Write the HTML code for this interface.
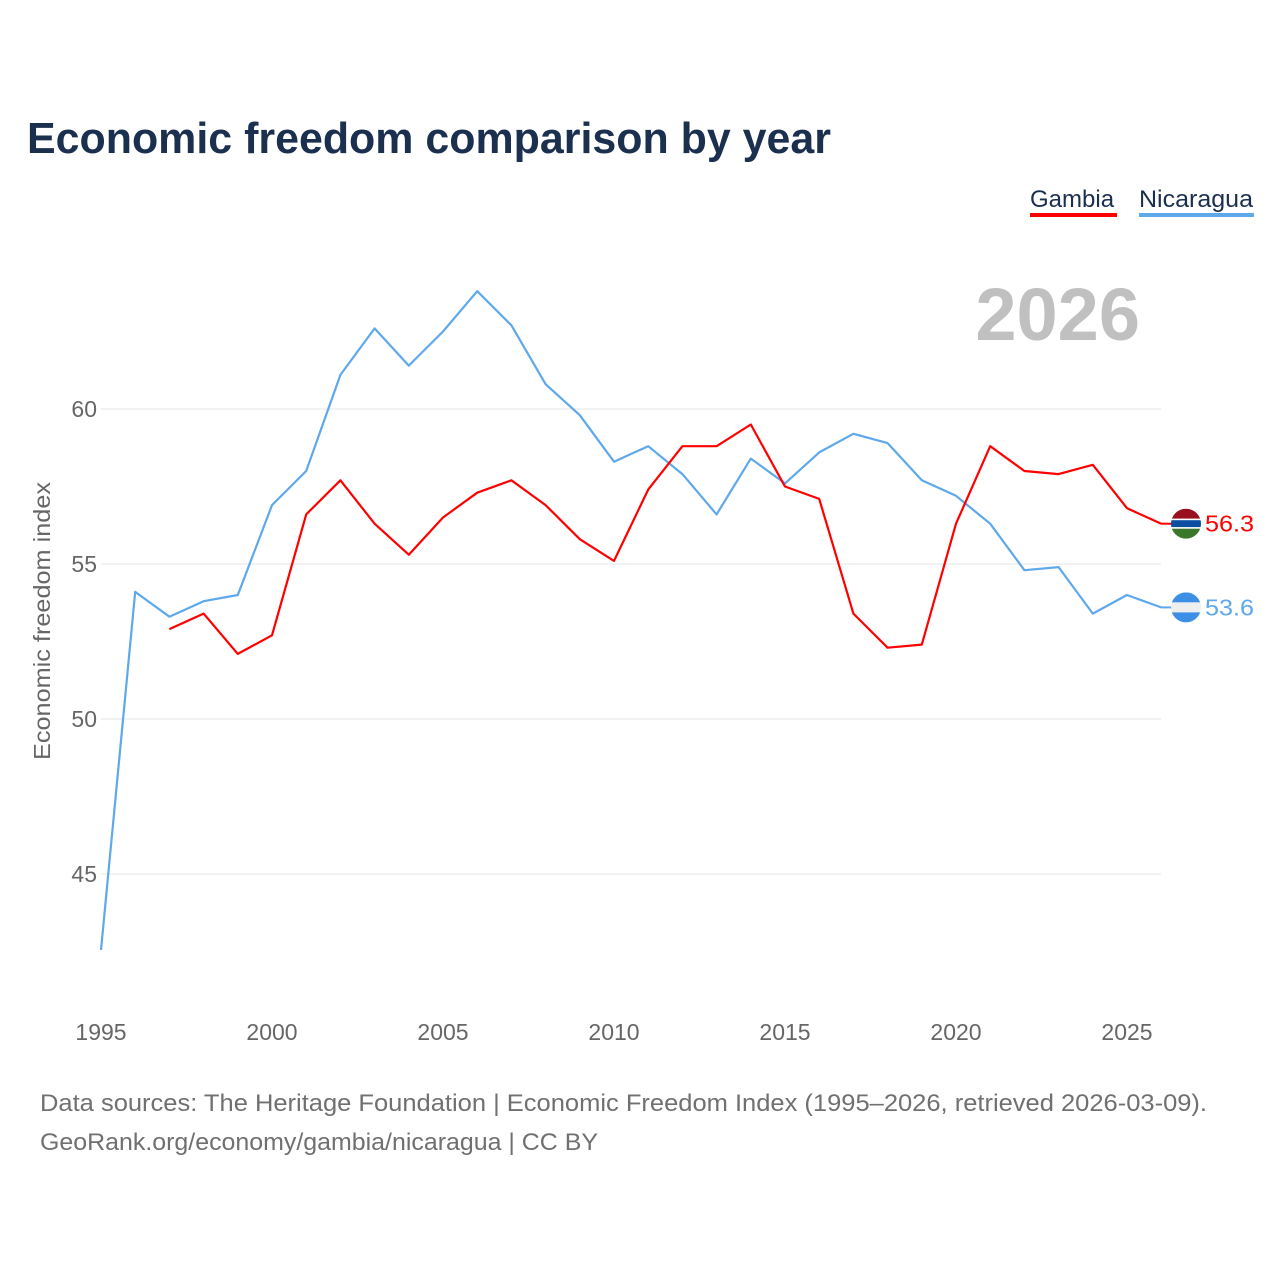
<!DOCTYPE html>
<html><head><meta charset="utf-8">
<style>
body{margin:0;background:#fff;font-family:"Liberation Sans",sans-serif;}
#wrap{position:relative;width:1280px;height:1280px;overflow:hidden;}
</style></head>
<body>
<div id="wrap">
<svg id="chart" width="1280" height="1280"></svg>
</div>
<script>
const years = [1995,1996,1997,1998,1999,2000,2001,2002,2003,2004,2005,2006,2007,2008,2009,2010,2011,2012,2013,2014,2015,2016,2017,2018,2019,2020,2021,2022,2023,2024,2025,2026];
const nicaragua = [42.55,54.1,53.3,53.8,54.0,56.9,58.0,61.1,62.6,61.4,62.5,63.8,62.7,60.8,59.8,58.3,58.8,57.9,56.6,58.4,57.6,58.6,59.2,58.9,57.7,57.2,56.3,54.8,54.9,53.4,54.0,53.6];
const gambia = [null,null,52.9,53.4,52.1,52.7,56.6,57.7,56.3,55.3,56.5,57.3,57.7,56.9,55.8,55.1,57.4,58.8,58.8,59.5,57.5,57.1,53.4,52.3,52.4,56.3,58.8,58.0,57.9,58.2,56.8,56.3];
const yTicks = [45,50,55,60];
const xTicks = [1995,2000,2005,2010,2015,2020,2025];

const NS="http://www.w3.org/2000/svg";
const svg=document.getElementById('chart');
const X=y=>101+(y-1995)*34.2;
const Y=v=>409+(60-v)*31;
function el(tag,attrs,text){const e=document.createElementNS(NS,tag);for(const k in attrs)e.setAttribute(k,attrs[k]);if(text!==undefined)e.textContent=text;svg.appendChild(e);return e;}

let t=el('text',{x:27,y:153,'font-size':44,'font-weight':'bold',fill:'#1b2f4f',textLength:804,lengthAdjust:'spacingAndGlyphs'},'Economic freedom comparison by year');



t=el('text',{x:1030,y:207,'font-size':24,fill:'#1b2f4f'},'Gambia');


let r=el('rect',{x:1030,y:213,width:87,height:4,fill:'#ff0000'});


t=el('text',{x:1139,y:207,'font-size':24,fill:'#1b2f4f',textLength:114,lengthAdjust:'spacingAndGlyphs'},'Nicaragua');


r=el('rect',{x:1139,y:213,width:115,height:4,fill:'#5ea8ec'});



t=el('text',{x:1140,y:340,'font-size':74,'font-weight':'bold',fill:'#c0c0c0','text-anchor':'end'},'2026');



yTicks.forEach(v=>{
  const g=el('line',{x1:101,x2:1161,y1:Y(v),y2:Y(v),stroke:'#e6e6e6','stroke-width':1});
  
  
  const l=el('text',{x:97,y:Y(v)+8,'font-size':23,fill:'#666','text-anchor':'end'},v);
  
  
});
xTicks.forEach(v=>{
  const l=el('text',{x:X(v),y:1040,'font-size':23,fill:'#666','text-anchor':'middle'},v);
  
  
});
t=el('text',{x:0,y:0,'font-size':23,fill:'#666','text-anchor':'middle',textLength:278,lengthAdjust:'spacingAndGlyphs',transform:'translate(50,621) rotate(-90)'},'Economic freedom index');



function path(vals,color,name){
  let d='';let pen=false;
  vals.forEach((v,i)=>{if(v==null){pen=false;return;}d+=(pen?'L':'M')+X(years[i]).toFixed(1)+' '+Y(v).toFixed(1)+' ';pen=true;});
  const p=el('path',{d:d,fill:'none',stroke:color,'stroke-width':2.2,'stroke-linejoin':'round'});
  
  
}
path(nicaragua,'#5ea8ec','nicaragua-line');
path(gambia,'#ff0000','gambia-line');

function flag(v,name,stripes,color){
  const cx=1186,cy=Y(v);
  const line=el('line',{x1:1161,x2:1172,y1:cy,y2:cy,stroke:color,'stroke-width':2});
  
  
  const g=document.createElementNS(NS,'g');
  
  
  svg.appendChild(g);
  const cp='clip-'+name;
  const cl=document.createElementNS(NS,'clipPath');cl.setAttribute('id',cp);
  const c=document.createElementNS(NS,'circle');c.setAttribute('cx',cx);c.setAttribute('cy',cy);c.setAttribute('r',15);cl.appendChild(c);g.appendChild(cl);
  let yy=cy-15;
  stripes.forEach(s=>{const rr=document.createElementNS(NS,'rect');rr.setAttribute('x',cx-15);rr.setAttribute('y',yy);rr.setAttribute('width',30);rr.setAttribute('height',s[1]);rr.setAttribute('fill',s[0]);rr.setAttribute('clip-path','url(#'+cp+')');g.appendChild(rr);yy+=s[1];});
  const lb=el('text',{x:1205,y:cy+8,'font-size':23,fill:color,textLength:49,lengthAdjust:'spacingAndGlyphs'},v.toFixed(1));
  
  
}
flag(gambia[gambia.length-1],'gambia',[['#9a0f1e',10],['#fff',1.5],['#0c4ea2',7],['#fff',1.5],['#3a7728',10]],'#ff0000');
flag(nicaragua[nicaragua.length-1],'nicaragua',[['#3d8fe6',10],['#eeeeee',10],['#3d8fe6',10]],'#5ea8ec');

t=el('text',{x:40,y:1111,'font-size':24,fill:'#707070',textLength:1167,lengthAdjust:'spacingAndGlyphs'},'Data sources: The Heritage Foundation | Economic Freedom Index (1995–2026, retrieved 2026-03-09).');


t=el('text',{x:40,y:1150,'font-size':24,fill:'#707070',textLength:558,lengthAdjust:'spacingAndGlyphs'},'GeoRank.org/economy/gambia/nicaragua | CC BY');


</script>
</body></html>
